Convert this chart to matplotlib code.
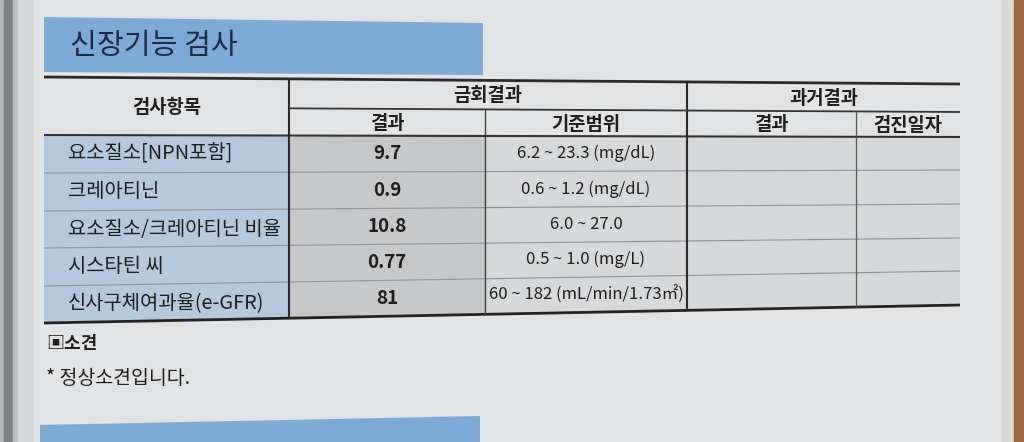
import matplotlib.pyplot as plt
from matplotlib.patches import Polygon, Rectangle

plt.rcParams['font.family'] = ['Noto Sans CJK KR', 'DejaVu Sans']

# table content
title = "신장기능 검사"
items = ["요소질소[NPN포함]", "크레아티닌", "요소질소/크레아티닌 비율",
         "시스타틴 씨", "신사구체여과율(e-GFR)"]
results = ["9.7", "0.9", "10.8", "0.77", "81"]
ranges = ["6.2 ~ 23.3 (mg/dL)", "0.6 ~ 1.2 (mg/dL)", "6.0 ~ 27.0",
          "0.5 ~ 1.0 (mg/L)", "60 ~ 182 (mL/min/1.73㎡)"]
past_results = ["", "", "", "", ""]
past_dates = ["", "", "", "", ""]
head_top = ["검사항목", "금회결과", "과거결과"]
head_sub = ["결과", "기준범위", "결과", "검진일자"]
note_title = "▣소견"
note_text = "* 정상소견입니다."

# layout (pixels, photo is slightly keystoned so lines tilt a bit)
X0, X1 = 44, 960
cols = [44, 289, 485, 687, 856, 960]
y_left = [77, 107, 135, 173, 211, 248, 286, 323]
y_right = [84, 112, 137, 170, 204, 238, 271, 305]

paper = "#e1e3e5"
ink = "#1e1e1e"


def yat(i, x):
    return y_left[i] + (y_right[i] - y_left[i]) * (x - X0) / (X1 - X0)


def cell(c, r, color):
    xa, xb = cols[c], cols[c + 1]
    pts = [(xa, yat(r, xa)), (xb, yat(r, xb)), (xb, yat(r + 1, xb)), (xa, yat(r + 1, xa))]
    ax.add_patch(Polygon(pts, closed=True, facecolor=color, edgecolor="none", zorder=1))


def hline(i, xa, xb, lw, color):
    ax.plot([xa, xb], [yat(i, xa), yat(i, xb)], color=color, lw=lw, zorder=3,
            solid_capstyle="butt")


def vline(x, i0, i1, lw, color):
    ax.plot([x, x], [yat(i0, x), yat(i1, x)], color=color, lw=lw, zorder=3,
            solid_capstyle="butt")


fig = plt.figure(figsize=(10.24, 4.42), dpi=100, facecolor=paper)
ax = fig.add_axes([0, 0, 1, 1])
ax.set_xlim(0, 1024)
ax.set_ylim(442, 0)
ax.axis("off")

# page edges
ax.add_patch(Rectangle((0, 0), 4, 442, color="#b3b4b6", zorder=0))
ax.add_patch(Rectangle((4, 0), 9, 442, color="#7e8084", zorder=0))
ax.add_patch(Rectangle((13, 0), 5, 442, color="#bcbec0", zorder=0))
ax.add_patch(Rectangle((18, 0), 14, 442, color="#d6d8da", zorder=0))
ax.add_patch(Rectangle((1002, 0), 12, 442, color="#d9d9d6", zorder=0))
ax.add_patch(Rectangle((1014, 0), 10, 442, color="#9a6a3e", zorder=0))

# title bar
ax.add_patch(Polygon([(44, 17), (483, 23), (483, 75), (44, 72)], closed=True,
                     facecolor="#7daad5", edgecolor="none", zorder=1))
ax.text(70, 46, title, fontsize=21, color="#1d2b44", ha="left", va="center", zorder=4)

# cell fills
for r in range(len(items)):
    cell(0, r + 2, "#b4c9de")
    cell(1, r + 2, "#c6c7c9")
    cell(2, r + 2, "#d6d8da")
    cell(3, r + 2, "#d6d8da")
    cell(4, r + 2, "#d6d8da")

# grid lines
hline(0, X0, X1, 2.0, "#2a2a2a")
hline(1, cols[1], X1, 1.3, "#333333")
hline(2, X0, X1, 1.5, "#333333")
for i in range(3, 7):
    hline(i, X0, X1, 0.8, "#8d8f92")
hline(7, X0, X1, 2.0, "#222222")
vline(cols[1], 0, 7, 1.5, "#2a2a2a")
vline(cols[2], 1, 7, 1.0, "#444444")
vline(cols[3], 0, 7, 1.5, "#2a2a2a")
vline(cols[4], 1, 7, 0.9, "#555555")

# header texts
xc = (cols[0] + cols[1]) / 2
ax.text(xc, (yat(0, xc) + yat(2, xc)) / 2 + 1, head_top[0], fontsize=13.5,
        fontweight="bold", color=ink, ha="center", va="center", zorder=4)
for k, (a, b) in enumerate([(1, 3), (3, 5)]):
    xc = (cols[a] + cols[b]) / 2
    ax.text(xc, (yat(0, xc) + yat(1, xc)) / 2 + 1, head_top[k + 1], fontsize=13.5,
            fontweight="bold", color=ink, ha="center", va="center", zorder=4)
for c, lab in enumerate(head_sub):
    xc = (cols[c + 1] + cols[c + 2]) / 2
    ax.text(xc, (yat(1, xc) + yat(2, xc)) / 2 + 1, lab, fontsize=13.5,
            fontweight="bold", color=ink, ha="center", va="center", zorder=4)

# data rows
for r in range(len(items)):
    xa = 68
    ax.text(xa, (yat(r + 2, xa) + yat(r + 3, xa)) / 2, items[r], fontsize=14.3,
            color=ink, ha="left", va="center", zorder=4)
    xc = (cols[1] + cols[2]) / 2
    ax.text(xc, (yat(r + 2, xc) + yat(r + 3, xc)) / 2, results[r], fontsize=13.5,
            fontweight="bold", color=ink, ha="center", va="center", zorder=4)
    xc = (cols[2] + cols[3]) / 2
    ax.text(xc, (yat(r + 2, xc) + yat(r + 3, xc)) / 2, ranges[r], fontsize=12,
            color=ink, ha="center", va="center", zorder=4)
    xc = (cols[3] + cols[4]) / 2
    ax.text(xc, (yat(r + 2, xc) + yat(r + 3, xc)) / 2, past_results[r], fontsize=12,
            color=ink, ha="center", va="center", zorder=4)
    xc = (cols[4] + cols[5]) / 2
    ax.text(xc, (yat(r + 2, xc) + yat(r + 3, xc)) / 2, past_dates[r], fontsize=12,
            color=ink, ha="center", va="center", zorder=4)

# remarks
ax.text(46, 343, note_title, fontsize=13, fontweight="bold", color=ink,
        ha="left", va="center", zorder=4)
ax.text(46, 378, note_text, fontsize=14, color=ink, ha="left", va="center", zorder=4)

# next section bar (cut off)
ax.add_patch(Polygon([(40, 425), (480, 416), (480, 442), (40, 442)], closed=True,
                     facecolor="#7daad5", edgecolor="none", zorder=1))

fig.savefig("out.png", dpi=100, facecolor=fig.get_facecolor())
